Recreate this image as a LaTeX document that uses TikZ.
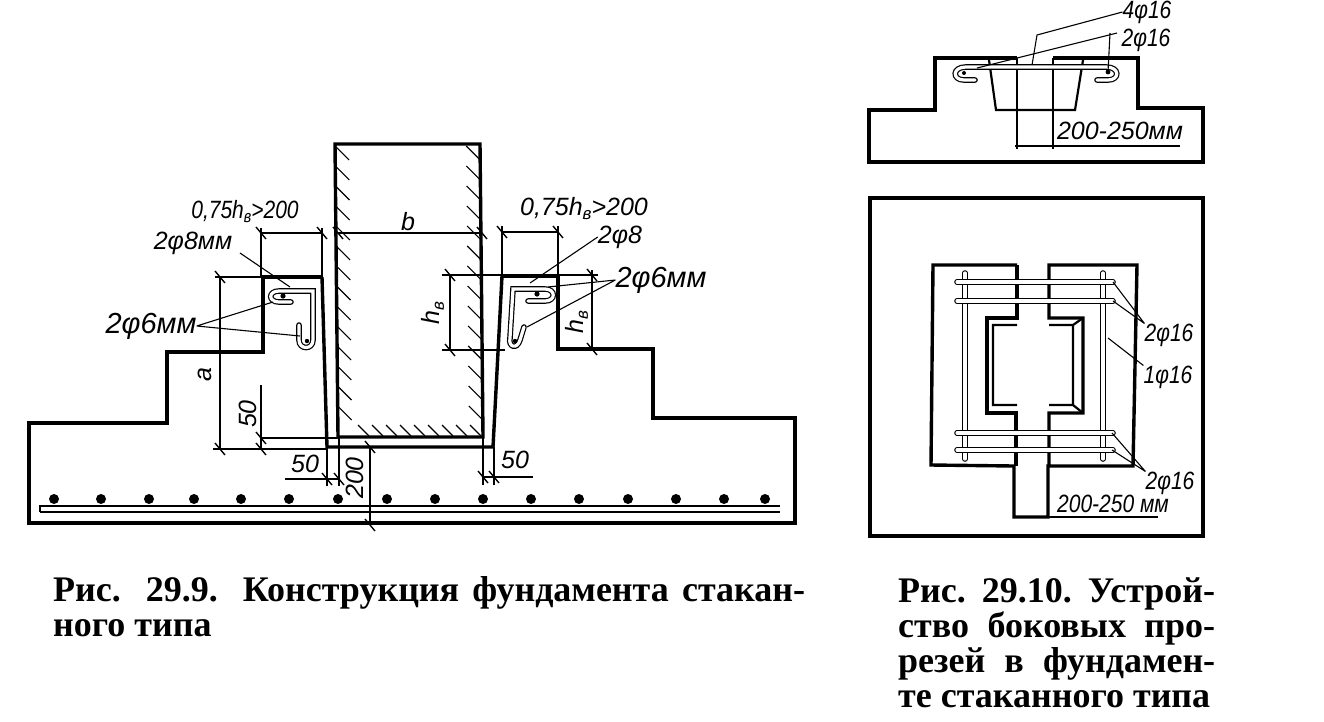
\documentclass[tikz,border=0pt]{standalone}
\usepackage{fontspec}
\setmainfont{Liberation Serif}
\newfontfamily\labelfont{Liberation Sans}
\newfontfamily\narrowfont[FakeStretch=0.84]{Liberation Sans}
\tikzset{
  wall/.style={line width=3.4pt,line join=miter},
  inwall/.style={line width=2.2pt},
  dimline/.style={line width=1.2pt},
  bar/.style={double=white,double distance=3.2pt,line width=1.2pt,line cap=round},
  lead/.style={line width=1.1pt},
  tag/.style={font=\labelfont\itshape\fontsize{25}{28}\selectfont,inner sep=0pt},
  bigtag/.style={font=\labelfont\itshape\fontsize{29}{32}\selectfont,inner sep=0pt},
  slimtag/.style={font=\narrowfont\itshape\fontsize{25}{28}\selectfont,inner sep=0pt},
  note/.style={font=\fontsize{36}{40}\selectfont\bfseries,inner sep=0pt,anchor=base west}
}
\newcommand{\dimtick}[2]{\draw[line width=1.4pt] (#1-5,#2-6) -- (#1+5,#2+6);}
\newcommand{\hsub}{h\lower4pt\hbox{\fontsize{17}{17}\selectfont в}}
\begin{document}
\begin{tikzpicture}[x=1pt,y=-1pt]
  \useasboundingbox (0,0) rectangle (1324,721);
  % foundation, side section
  \begin{scope}
    \draw[wall] (322,277) -- (263,277) -- (263,352) -- (167,352) -- (167,423) -- (29,423)
      -- (29,523) -- (795,523) -- (795,418) -- (653,418) -- (653,349) -- (558,349)
      -- (558,276) -- (502,276);
    \draw[wall] (322,277) -- (327,447) -- (493,447) -- (502,276);
    \draw[wall] (335,144) -- (338,437) -- (483,437) -- (480,144) -- cycle;
    \foreach \y in {146,166,...,420}
      \draw[line width=1.1pt] ({338-(437-\y)*0.01},\y) -- +(14,14);
    \foreach \y in {160,180,...,420}
      \draw[line width=1.1pt] ({483-(437-\y)*0.01},\y) -- +(-14,-14);
    \foreach \x in {358,372,...,470}
      \draw[line width=1.1pt] (\x,425) -- +(11,11);
    % reinforcement at the bottom
    \draw[line width=1.6pt] (40,512) -- (40,506) -- (780,506);
    \draw[line width=1.6pt] (40,512) -- (780,512);
    \foreach \x in {54,101,149,194,241,289,338,387,435,483,531,579,628,676,724,765}
      \fill (\x,499) circle (5);
    % hooks in the left cut
    \draw[bar] (299,325) -- (299,340) .. controls (299,350) and (313,350) .. (313,340)
      -- (313,291) -- (279,291) .. controls (268,291) and (268,302) .. (279,302) -- (291,302);
    \fill (283,296) circle (2.6) (307,341) circle (2.2);
    % hooks in the right cut
    \draw[bar] (524,327) -- (520,340) .. controls (517,350) and (508,347) .. (510,338)
      -- (513,289) -- (545,289) .. controls (556,289) and (556,301) .. (545,301) -- (528,301);
    \fill (537,294) circle (2.6) (515,341) circle (2.2);
    % sizes
    \draw[dimline] (220,277) -- (220,449) (215,277) -- (322,277);
    \draw[dimline] (213,449) -- (327,449) (261,385) -- (261,449) (261,438) -- (338,438);
    \dimtick{220}{277} \dimtick{220}{449} \dimtick{261}{438} \dimtick{261}{449}
    \node[tag,rotate=90] (sizea) at (205,375) {a};
    \node[tag,rotate=90] (sizebotl) at (248,414) {50};
    \draw[dimline] (285,479) -- (339,479) (327,447) -- (327,486) (339,437) -- (339,486);
    \dimtick{327}{479} \dimtick{339}{479}
    \node[tag] (sizecupl) at (305,464) {50};
    \draw[dimline] (483,437) -- (483,485) (494,447) -- (494,485) (483,477) -- (533,477);
    \dimtick{483}{477} \dimtick{494}{477}
    \node[tag] (sizecupr) at (515,460) {50};
    \draw[dimline] (370,447) -- (370,525);
    \dimtick{370}{447} \dimtick{370}{525}
    \node[tag,rotate=90] (sizefloor) at (355,478) {200};
    \draw[dimline] (338,233) -- (482,233);
    \dimtick{338}{233} \dimtick{482}{233}
    \node[tag] (sizeb) at (408,222) {b};
    \draw[dimline] (261,228) -- (261,277) (261,233) -- (322,233) (322,228) -- (322,277);
    \dimtick{261}{233} \dimtick{322}{233}
    \node[slimtag] (sizehl) at (245,212) {0,75\hsub>200};
    \draw[dimline] (502,226) -- (502,276) (502,232) -- (558,232) (558,226) -- (558,276);
    \dimtick{502}{232} \dimtick{558}{232}
    \node[tag] (sizehr) at (584,209) {0,75\hsub>200};
    \draw[dimline] (442,275) -- (502,275) (442,350) -- (505,350) (450,275) -- (450,350);
    \dimtick{450}{275} \dimtick{450}{350}
    \node[tag,rotate=90] (sizehcup) at (433,313) {\hsub};
    \draw[dimline] (558,275) -- (598,275) (592,270) -- (592,350);
    \dimtick{592}{275} \dimtick{592}{349}
    \node[tag,rotate=90] (sizehstep) at (577,322) {\hsub};
    % bar names
    \node[tag] (bartl) at (193,243) {2φ8мм};
    \draw[lead] (240,253) -- (290,287);
    \node[bigtag] (barml) at (151,326) {2φ6мм};
    \draw[lead] (barml.east) -- (273,302) (barml.east) -- (300,336);
    \node[tag] (bartr) at (620,237) {2φ8};
    \draw[lead] (bartr.west) -- (530,283);
    \node[bigtag] (barmr) at (661,280) {2φ6мм};
    \draw[lead] (barmr.west) -- (548,287) (barmr.west) -- (527,327);
  \end{scope}
  % foundation, cross section
  \begin{scope}
    \draw[wall] (1017,58) -- (935,58) -- (935,110) -- (869,110) -- (869,162) -- (1203,162)
      -- (1203,108) -- (1138,108) -- (1138,58) -- (1053,58);
    \draw[inwall] (989,60) -- (996,110) -- (1075,110) -- (1083,60);
    \draw[inwall] (1017,58) -- (1017,110) (1053,58) -- (1053,110);
    \draw[dimline] (1017,110) -- (1017,149) (1053,110) -- (1053,149) (1015,146) -- (1180,146);
    \draw[bar] (975,80) -- (964,80) .. controls (952,80) and (952,67) .. (966,67) -- (1106,67)
      .. controls (1120,67) and (1120,80) .. (1108,80) -- (1097,80);
    \fill (964,73) circle (2) (1108,72) circle (2.4);
    \node[tag] (sizeslot) at (1120,131) {200-250мм};
    \node[slimtag] (barfour) at (1147,12) {4φ16};
    \draw[lead] (barfour.west) -- (1037,35) -- (1032,65);
    \node[slimtag] (bartwo) at (1146,40) {2φ16};
    \draw[lead] (1117,33) -- (977,68) (1110,33) -- (1108,72);
  \end{scope}
  % foundation, plan
  \begin{scope}
    \draw[wall] (870,198) rectangle (1203,536);
    \draw[wall] (1017,265) -- (933,265) -- (931,465) -- (1014,466) -- (1014,517) -- (1048,517)
      -- (1048,466) -- (1133,466) -- (1137,265) -- (1049,265) -- (1049,318) -- (1083,318)
      -- (1083,413) -- (1049,413) -- (1049,466);
    \draw[wall] (1017,265) -- (1017,318) -- (987,318) -- (987,413) -- (1016,413) -- (1016,466);
    \draw[inwall] (1017,325) -- (993,325) -- (993,405) -- (1017,405) (1049,325) -- (1073,325)
      -- (1073,405) -- (1049,405) (1083,318) -- (1073,325) (1083,413) -- (1073,405);
    \foreach \x in {965,1103}
      \draw[bar] (\x,273) -- (\x,459);
    \foreach \y in {282,301,433,450}
      \draw[bar] (957,\y) -- (1113,\y);
    \draw[dimline] (1048,517) -- (1158,517);
    \node[slimtag] (sizecut) at (1113,504) {200-250 мм};
    \node[slimtag] (barupper) at (1169,335) {2φ16};
    \draw[lead] (barupper.north west) -- (1113,282) (barupper.north west) -- (1113,301);
    \node[slimtag] (barside) at (1168,377) {1φ16};
    \draw[lead] (barside.north west) -- (1108,338);
    \node[slimtag] (barlower) at (1170,483) {2φ16};
    \draw[lead] (barlower.north west) -- (1112,433) (barlower.north west) -- (1112,450);
  \end{scope}
  % captions
  \node[note] (capleft) at (53,601) {\makebox[752pt][s]{Рис. 29.9. Конструкция фундамента стакан-}};
  \node[note] (capleftb) at (53,636) {ного типа};
  \node[note] (capright) at (898,602) {\makebox[317pt][s]{Рис. 29.10. Устрой-}};
  \node[note] (caprightb) at (898,637) {\makebox[317pt][s]{ство боковых про-}};
  \node[note] (caprightc) at (898,672) {\makebox[317pt][s]{резей в фундамен-}};
  \node[note] (caprightd) at (898,707) {те стаканного типа};
\end{tikzpicture}
\end{document}
